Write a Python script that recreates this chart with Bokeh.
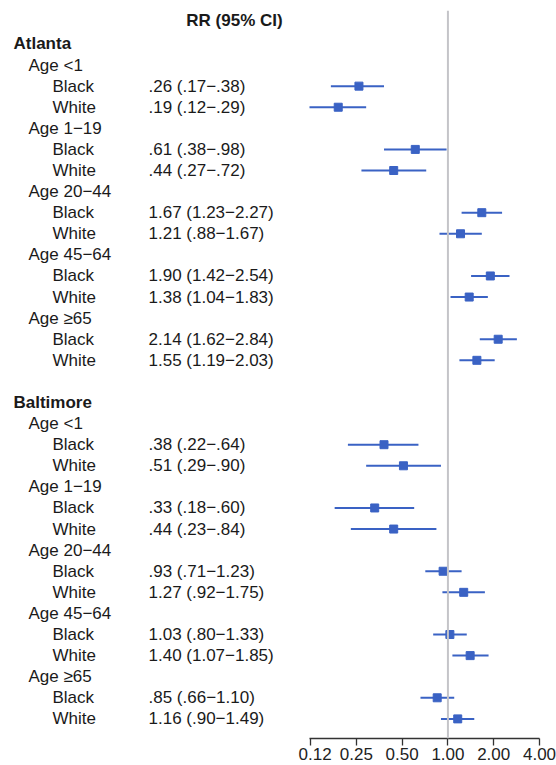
from bokeh.plotting import figure
from bokeh.layouts import row
from bokeh.models import ColumnDataSource, Range1d, FixedTicker, Span, LinearAxis
from bokeh.embed import file_html
from bokeh.resources import INLINE
from bokeh.core.properties import value

# ---------------- data ----------------
cities = ["Atlanta", "Baltimore"]
age_groups = ["Age <1", "Age 1\u221219", "Age 20\u221244", "Age 45\u221264", "Age \u226565"]
races = ["Black", "White"]

# order: (<1 Black, <1 White, 1-19 Black, 1-19 White, 20-44 B, W, 45-64 B, W, >=65 B, W)
atl_rr = [0.26, 0.19, 0.61, 0.44, 1.67, 1.21, 1.90, 1.38, 2.14, 1.55]
atl_lo = [0.17, 0.12, 0.38, 0.27, 1.23, 0.88, 1.42, 1.04, 1.62, 1.19]
atl_hi = [0.38, 0.29, 0.98, 0.72, 2.27, 1.67, 2.54, 1.83, 2.84, 2.03]
bal_rr = [0.38, 0.51, 0.33, 0.44, 0.93, 1.27, 1.03, 1.40, 0.85, 1.16]
bal_lo = [0.22, 0.29, 0.18, 0.23, 0.71, 0.92, 0.80, 1.07, 0.66, 0.90]
bal_hi = [0.64, 0.90, 0.60, 0.84, 1.23, 1.75, 1.33, 1.85, 1.10, 1.49]

tick_values = [0.125, 0.25, 0.5, 1.0, 2.0, 4.0]
tick_labels = ["0.12", "0.25", "0.50", "1.00", "2.00", "4.00"]
header = "RR (95% CI)"


def fmt(v):
    s = f"{v:.2f}"
    return s[1:] if s.startswith("0") else s


# ---------------- build rows ----------------
city_y, city_t = [], []
age_y, age_t = [], []
race_y, race_t = [], []
est = dict(y=[], rr=[], lo=[], hi=[], txt=[])
r = 0
for ci, (city, rr, lo, hi) in enumerate(zip(cities, [atl_rr, bal_rr],
                                             [atl_lo, bal_lo], [atl_hi, bal_hi])):
    if ci > 0:
        r += 1  # blank separator row
    city_y.append(r); city_t.append(city); r += 1
    for ai, age in enumerate(age_groups):
        age_y.append(r); age_t.append(age); r += 1
        for ri, race in enumerate(races):
            k = 2 * ai + ri
            race_y.append(r); race_t.append(race)
            est["y"].append(r)
            est["rr"].append(rr[k]); est["lo"].append(lo[k]); est["hi"].append(hi[k])
            est["txt"].append(f"{fmt(rr[k])} ({fmt(lo[k])}\u2212{fmt(hi[k])})")
            r += 1

src = ColumnDataSource(est)

# ---------------- layout constants ----------------
H = 762
Y_TOP = -1.586
Y_BOT = 32.93
yr = Range1d(start=Y_BOT, end=Y_TOP)
FONT = value("Liberation Sans")
TXT = "#1a1a1a"
BLUE = "#3a62c4"

LEFT_W = 298
RIGHT_W = 258


def axis_style(ax):
    ax.major_label_text_font = "Liberation Sans"
    ax.major_label_text_font_size = "17px"
    ax.major_tick_out = 7
    ax.major_tick_in = 0
    ax.major_label_standoff = 2
    ax.minor_tick_line_color = None


# ---------------- left (text) figure ----------------
left = figure(width=LEFT_W, height=H, x_range=Range1d(0, LEFT_W), y_range=yr,
              output_backend="svg", toolbar_location=None,
              min_border_left=0, min_border_right=0, min_border_top=10,
              min_border_bottom=0, x_axis_location=None, y_axis_location=None)
ax_l = LinearAxis()
axis_style(ax_l)
ax_l.axis_line_color = None
ax_l.major_tick_line_color = None
ax_l.major_label_text_color = None
left.add_layout(ax_l, "below")
left.grid.visible = False
left.outline_line_color = None

left.text(x=234, y=-1.1, text=[header], text_font=FONT, text_font_size="17px",
          text_font_style="bold", text_align="center", text_baseline="middle",
          text_color=TXT)
left.text(x=13, y=city_y, text=city_t, text_font=FONT, text_font_size="17px",
          text_font_style="bold", text_baseline="middle", text_color=TXT)
left.text(x=28, y=age_y, text=age_t, text_font=FONT, text_font_size="17px",
          text_baseline="middle", text_color=TXT)
left.text(x=52, y=race_y, text=race_t, text_font=FONT, text_font_size="17px",
          text_baseline="middle", text_color=TXT)
left.text(x=148, y="y", text="txt", source=src, text_font=FONT, text_font_size="17px",
          text_baseline="middle", text_color=TXT)

# ---------------- right (forest) figure ----------------
right = figure(width=RIGHT_W, height=H, x_axis_type="log",
               x_range=Range1d(0.123, 4.0), y_range=yr,
               output_backend="svg", toolbar_location=None,
               min_border_left=11, min_border_right=17, min_border_top=10,
               min_border_bottom=0, y_axis_location=None)
right.grid.visible = False
right.outline_line_color = None
ax = right.xaxis[0]
ax.ticker = FixedTicker(ticks=tick_values)
ax.major_label_overrides = {t: l for t, l in zip(tick_values, tick_labels)}
axis_style(ax)
ax.axis_line_color = "#333333"
ax.axis_line_width = 1.3
ax.major_tick_line_color = "#333333"
ax.major_tick_line_width = 1.3
ax.major_label_text_color = "#222222"

right.add_layout(Span(location=1.0, dimension="height", line_color="#c4c4c8",
                      line_width=2))
right.segment(x0="lo", x1="hi", y0="y", y1="y", source=src,
              line_color=BLUE, line_width=2)
right.scatter(x="rr", y="y", source=src, marker="square", size=8,
              fill_color=BLUE, line_color=BLUE)

layout = row(left, right, spacing=0)
open("out.html", "w").write(file_html(layout, INLINE))
